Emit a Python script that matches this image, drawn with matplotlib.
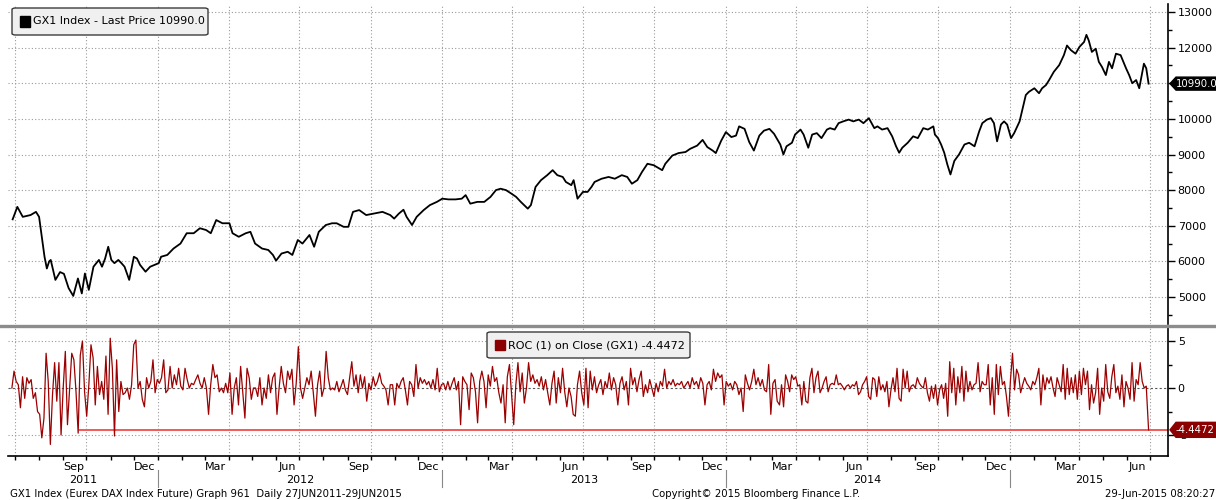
import pandas as pd
import matplotlib
matplotlib.use("Agg")
import matplotlib.pyplot as plt
import matplotlib.dates as mdates
from matplotlib.patches import FancyBboxPatch, Polygon, Rectangle
from matplotlib.lines import Line2D

# ---- data ----
price_dates = [
    "2011-06-28", "2011-07-04", "2011-07-11", "2011-07-21", "2011-07-28", "2011-08-01", "2011-08-08", "2011-08-11",
    "2011-08-14", "2011-08-16", "2011-08-22", "2011-08-28", "2011-09-02", "2011-09-08", "2011-09-14", "2011-09-20",
    "2011-09-25", "2011-09-29", "2011-10-04", "2011-10-10", "2011-10-17", "2011-10-21", "2011-10-25", "2011-10-29",
    "2011-11-02", "2011-11-06", "2011-11-11", "2011-11-15", "2011-11-19", "2011-11-25", "2011-12-01", "2011-12-05",
    "2011-12-09", "2011-12-16", "2011-12-22",
    "2012-01-02", "2012-01-05", "2012-01-13", "2012-01-21", "2012-01-30", "2012-02-07", "2012-02-16", "2012-02-24",
    "2012-03-03", "2012-03-09", "2012-03-16", "2012-03-24", "2012-04-02", "2012-04-06", "2012-04-14", "2012-04-23",
    "2012-04-29", "2012-05-05", "2012-05-14", "2012-05-22", "2012-05-28", "2012-06-01", "2012-06-08", "2012-06-16",
    "2012-06-22", "2012-06-29", "2012-07-05", "2012-07-14", "2012-07-20", "2012-07-26", "2012-08-04", "2012-08-12",
    "2012-08-18", "2012-08-27", "2012-09-02", "2012-09-08", "2012-09-16", "2012-09-25", "2012-10-07", "2012-10-16",
    "2012-10-26", "2012-10-31", "2012-11-06", "2012-11-12", "2012-11-16", "2012-11-23", "2012-11-29", "2012-12-08",
    "2012-12-16", "2012-12-25",
    "2013-01-01", "2013-01-09", "2013-01-18", "2013-01-26", "2013-01-31", "2013-02-06", "2013-02-15", "2013-02-24",
    "2013-03-04", "2013-03-11", "2013-03-17", "2013-03-24", "2013-03-31", "2013-04-06", "2013-04-12", "2013-04-21",
    "2013-04-25", "2013-05-01", "2013-05-08", "2013-05-16", "2013-05-23", "2013-05-29", "2013-06-05", "2013-06-09",
    "2013-06-16", "2013-06-19", "2013-06-24", "2013-07-01", "2013-07-07", "2013-07-12", "2013-07-16", "2013-07-25",
    "2013-08-03", "2013-08-11", "2013-08-20", "2013-08-27", "2013-09-02", "2013-09-09", "2013-09-15", "2013-09-22",
    "2013-09-30", "2013-10-04", "2013-10-11", "2013-10-15", "2013-10-24", "2013-11-01", "2013-11-10", "2013-11-16",
    "2013-11-25", "2013-12-02", "2013-12-08", "2013-12-15", "2013-12-19", "2013-12-26",
    "2014-01-01", "2014-01-08", "2014-01-14", "2014-01-18", "2014-01-25", "2014-01-31", "2014-02-06", "2014-02-13",
    "2014-02-19", "2014-02-26", "2014-03-04", "2014-03-12", "2014-03-16", "2014-03-20", "2014-03-27", "2014-03-31",
    "2014-04-07", "2014-04-11", "2014-04-17", "2014-04-22", "2014-04-28", "2014-05-04", "2014-05-11", "2014-05-15",
    "2014-05-21", "2014-05-26", "2014-06-01", "2014-06-08", "2014-06-14", "2014-06-21", "2014-06-27", "2014-07-04",
    "2014-07-11", "2014-07-15", "2014-07-21", "2014-07-28", "2014-08-03", "2014-08-08", "2014-08-12", "2014-08-16",
    "2014-08-23", "2014-08-30", "2014-09-05", "2014-09-12", "2014-09-18", "2014-09-25", "2014-09-27", "2014-10-01",
    "2014-10-05", "2014-10-09", "2014-10-13", "2014-10-17", "2014-10-22", "2014-10-28", "2014-11-04", "2014-11-10",
    "2014-11-17", "2014-11-23", "2014-11-27", "2014-12-03", "2014-12-08", "2014-12-12", "2014-12-16", "2014-12-21",
    "2014-12-25", "2014-12-29",
    "2015-01-03", "2015-01-07", "2015-01-14", "2015-01-18", "2015-01-22", "2015-01-26", "2015-02-02", "2015-02-08",
    "2015-02-12", "2015-02-17", "2015-02-21", "2015-02-27", "2015-03-06", "2015-03-12", "2015-03-16", "2015-03-21",
    "2015-03-27", "2015-04-01", "2015-04-07", "2015-04-10", "2015-04-13", "2015-04-17", "2015-04-22", "2015-04-26",
    "2015-04-30", "2015-05-05", "2015-05-09", "2015-05-13", "2015-05-18", "2015-05-24", "2015-05-31", "2015-06-04",
    "2015-06-08", "2015-06-13", "2015-06-17", "2015-06-21", "2015-06-23", "2015-06-26", "2015-06-29",
]
price_values = [
    7180, 7530, 7250, 7300, 7390, 7250, 6130, 5800,
    6000, 6040, 5480, 5700, 5650, 5250, 5030, 5520,
    5100, 5660, 5200, 5850, 6040, 5850, 6080, 6410,
    6040, 5950, 6040, 5950, 5850, 5480, 6130, 6080,
    5900, 5710, 5850,
    5950, 6130, 6180, 6360, 6500, 6790, 6790, 6930,
    6880, 6790, 7160, 7070, 7070, 6790, 6690, 6790,
    6830, 6500, 6360, 6320, 6180, 6020, 6220, 6270,
    6180, 6600, 6500, 6740, 6410, 6830, 7020, 7070,
    7070, 6970, 6970, 7390, 7440, 7300, 7350, 7390,
    7300, 7200, 7340, 7450, 7250, 7020, 7250, 7440,
    7580, 7670,
    7760, 7740, 7740, 7760, 7860, 7620, 7670, 7670,
    7810, 8000, 8040, 8000, 7900, 7810, 7670, 7480,
    7580, 8090, 8280, 8420, 8560, 8420, 8370, 8230,
    8140, 8280, 7760, 7950, 7950, 8090, 8230, 8320,
    8370, 8320, 8420, 8370, 8180, 8280, 8510, 8740,
    8700, 8650, 8560, 8740, 8970, 9040, 9070, 9160,
    9250, 9410, 9210, 9110, 9040, 9390,
    9630, 9490, 9530, 9790, 9720, 9350, 9110, 9530,
    9670, 9720, 9580, 9280, 9000, 9230, 9330, 9560,
    9700, 9560, 9190, 9560, 9600, 9460, 9700, 9740,
    9700, 9880, 9930, 9980, 9930, 9980, 9880, 10020,
    9740, 9790, 9700, 9740, 9510, 9230, 9050, 9190,
    9330, 9510, 9460, 9740, 9700, 9790, 9560, 9460,
    9280, 9050, 8720, 8440, 8820, 9000, 9280, 9330,
    9230, 9650, 9880, 9980, 10020, 9880, 9370, 9840,
    9930, 9840,
    9460, 9600, 9930, 10300, 10670, 10760, 10860, 10720,
    10860, 10950, 11090, 11320, 11510, 11790, 12060, 11930,
    11830, 12020, 12160, 12360, 12200, 11880, 11970, 11600,
    11460, 11230, 11600, 11420, 11830, 11790, 11420, 11230,
    11000, 11090, 10860, 11320, 11550, 11420, 10990,
]

# ROC (1) on close, read in three stretches of the chart
roc_span_1 = ("2011-06-27", "2012-10-26")
roc_values_1 = [
    0, 1.8, 0.7, 0.35, -2.1, 1.2, -1.1, 1.1, 0.5, 0.9, -1.1, -0.5, -2.5, -2.8, -5.3, -3.2, 3.7, 0.7, -6.0, -0.7,
    2.7, -1.4, 2.7, -5.0, 0, 3.9, -3.9, 0, 3.7, 3.0, -0.4, -4.8, 3.5, 5.0, -0.4, -3.0, 0.35, 4.6, 3.2, -1.8,
    2.3, -0.7, 0.7, -1.2, 3.4, -2.8, 5.3, 2.1, -5.1, 3.0, -2.5, 0.7, -0.7, -0.5, 0, -1.2, 0.35, 4.6, 5.1, 0,
    0.7, -1.2, -2.0, 1.1, 0, 0.7, 3.0, -0.5, 0.9, 0.5, 1.1, 3.0, -0.5, -0.2, 2.3, 0, 1.4, 0.35, 2.1, 0.2,
    -0.2, 2.1, 0.9, 0, 0.5, 0.35, 0.9, 1.4, 0.5, 0, 1.1, 0, -2.8, 0.35, 2.5, 1.1, 1.4, -0.4, 0, -0.5,
    0.5, -0.5, 1.6, -2.8, 0, 1.1, -1.8, 2.3, -0.4, -3.2, 2.1, 1.1, -1.2, 0, 0, -0.9, 1.1, -1.8, 0, -1.1,
    1.4, -0.5, 1.1, 1.6, -2.8, 0, 2.3, 0.5, -0.5, 1.8, 0.9, 2.0, -1.8, 0.5, 4.4, 0, -1.1, 0, 1.1, 0.35,
    1.8, -0.5, -3.0, 0.35, 1.8, -0.9, 0, 3.9, 1.1, -0.2, 0, -0.2, 0.7, -0.4, 0.2, 0.9, -0.2, -0.7, 1.1, 2.8,
    0.2, 1.4, -0.5, 1.4, 0, 1.2, -1.4, 0.5, -0.2, 1.2, 0.2, 0.7, 1.6, 0.5, 0.2, -0.2, -1.8, 0.35,
]
roc_span_2 = ("2012-10-29", "2014-03-08")
roc_values_2 = [
    0.35, -1.8, 0.5, 0, 0.7, 1.1, -0.2, -1.8, 0.7, 0.35, -0.9, 2.5, 0, 1.1, 0.5, 0.9, 0.35, 0.7, 0, 0.9,
    -0.2, 2.1, -0.4, 0.35, 0.5, -0.2, 0.7, -0.2, 0.5, 1.1, -0.2, 0.7, -3.9, 1.2, 0.7, 0.35, -2.3, 1.6, 1.1, -0.4,
    -3.7, 0.7, 1.8, 0.7, -2.1, 1.4, 0.2, 2.3, 0.7, 1.1, -0.5, -1.6, 0.35, -3.7, 1.2, 2.5, -0.7, -3.9, 0.35, 2.7,
    -0.4, 1.6, -1.6, 0, 2.7, 0.7, 1.4, 0.5, 0.9, 0.2, 1.2, -0.2, 0.9, -0.5, -1.8, 0.5, 1.8, -1.6, 1.1, -0.5,
    2.1, -0.4, -2.0, 0, -0.9, -2.8, -3.0, 0.35, 1.8, -0.5, -1.8, 2.1, -2.1, 1.8, -0.2, 1.2, -0.5, 0.35, 0.9, -0.7,
    0.7, 0, 1.6, -0.2, 1.1, 0.35, -1.8, 0.5, 1.2, -0.2, 0.7, -1.8, 2.1, 0.35, 1.1, -0.4, 0.9, 1.8, -0.9, 0.35,
    -0.5, 0.9, 0, -0.9, 0.5, -0.4, 0.7, 0.2, 2.0, 0, 0.7, 0.35, 0.9, 0.2, 0.5, 0.35, 0.7, 0, 0.35, 0.7,
    0, 1.1, 0.35, 0.7, 0, 1.1, 0.5, -1.8, 0.35, 0.7, -0.2, 2.0, 0.7, 1.6, 1.1, 1.4, -1.8, 0.7, 0.2, 0.5,
    -0.2, 0.7, 0.35, -0.7, 0, -2.5, 1.4, 0.5, -0.2, 0.7, 2.0, 0.35, 1.1, 0.2, 0.9, -0.2, -0.4, 2.5, -2.8, 0.5,
    0.9, -1.4,
]
roc_span_3 = ("2014-03-11", "2015-06-26")
roc_values_3 = [
    -1.8, 0.35, -2.0, 1.4, 0.7, -0.4, 1.4, 0.9, 1.2, 0.2, 0.35, -1.8, 0.7, -1.4, -1.6, 1.1, 2.1, -0.5, 1.1, 1.8,
    -0.5, 0, 0.7, 1.2, -0.4, 0.35, 0.5, 0.35, 1.4, 0.35, 0.5, 0.2, -0.2, 0.2, 0.35, 0, 0.35, 0.2, 0.7, -0.7,
    -0.4, 0.35, 0.7, 1.2, -0.9, -1.2, 1.1, 0.9, -0.9, 1.2, -0.2, 0.35, -0.4, 0.7, -2.0, -0.2, 1.1, -0.4, 2.1, -1.1,
    -1.4, 2.0, 0, 1.8, -0.4, 0.2, 0.35, 0, 1.1, 0.5, 0.2, 0, 1.1, -0.5, -1.4, 0.2, -1.1, 0.35, -1.8, -0.2,
    0.35, -1.1, 0.5, -3.0, 2.8, -0.5, 2.1, -1.8, 1.2, -0.5, 2.3, -1.4, 1.8, -0.4, 0.7, -0.2, 0.35, 0.5, 2.7, -0.4,
    0.7, 0.35, 0.35, 2.5, -1.8, 1.1, -2.8, 2.5, -0.7, 2.3, 0.35, 0.7, -0.9, -3.0, 0.9, 3.7, -0.2, 2.0, 1.4, -0.5,
    0.35, 1.1, 0.5, 0.2, -0.2, 0.7, 0.35, 1.1, 2.1, -1.8, 1.4, -0.2, 1.1, 0.5, 1.2, 0, -0.9, 1.1, 0.35, -0.4,
    2.5, -1.2, 2.1, -0.7, 1.1, -0.5, 1.4, -1.2, 1.8, -0.7, 2.1, 0.35, 1.8, -2.3, 0.35, -1.6, -0.5, 2.1, -2.8, 0,
    -1.4, 2.5, -0.4, -1.1, 1.2, 2.5, -0.5, 0.2, -1.2, 1.4, -2.0, 0.7, 0, -1.2, 2.7, -1.4, 0.9, 0.35, 2.7, 0.7,
    0, 0.2,
]
roc_last_date = "2015-06-29"
roc_last = -4.4472
roc_line_start = "2011-09-22"   # where the last-value line begins

last_price = 10990.0
price_ticks = [5000, 6000, 7000, 8000, 9000, 10000, 11000, 12000, 13000]
price_tick_labels = ["5000", "6000", "7000", "8000", "9000", "10000", "", "12000", "13000"]
roc_ticks = [-5, 0, 5]
years = [2011, 2012, 2013, 2014, 2015]

x_start = pd.Timestamp("2011-06-22")
x_end = pd.Timestamp("2015-07-24")

# ---- build series ----
price = pd.Series(price_values, index=pd.to_datetime(price_dates))
roc_parts = []
for span, vals in [(roc_span_1, roc_values_1), (roc_span_2, roc_values_2), (roc_span_3, roc_values_3)]:
    idx = pd.date_range(span[0], span[1], periods=len(vals))
    roc_parts.append(pd.Series(vals, index=idx))
roc_parts.append(pd.Series([roc_last], index=pd.to_datetime([roc_last_date])))
roc = pd.concat(roc_parts)

# ---- figure layout (pixel based) ----
W, H = 1216, 500
fig = plt.figure(figsize=(W / 100, H / 100), dpi=100)
plt.rcParams['font.family'] = 'DejaVu Sans'


def rect(x0, y0, x1, y1):
    return [x0 / W, 1 - y1 / H, (x1 - x0) / W, (y1 - y0) / H]


ax1 = fig.add_axes(rect(8, 4, 1168, 324))
ax2 = fig.add_axes(rect(8, 327, 1168, 456))

grid_kw = dict(color='#9a9a9a', lw=0.8, ls=(0, (1, 2)), zorder=0)
quarters = pd.date_range("2011-07-01", "2015-07-01", freq="QS")

# top panel: price
ax1.plot(price.index, price.values, color='black', lw=1.3, zorder=3)
ax1.set_xlim(x_start, x_end)
ax1.set_ylim(4242, 13225)
for q in quarters:
    ax1.axvline(q, **grid_kw)
for t in price_ticks:
    ax1.axhline(t, **grid_kw)
ax1.yaxis.tick_right()
ax1.set_yticks(price_ticks)
ax1.set_yticklabels(price_tick_labels)
ax1.set_yticks(range(4500, 13001, 1000), minor=True)
ax1.tick_params(axis='y', which='major', direction='out', length=5, width=1, labelsize=8, pad=2)
ax1.tick_params(axis='y', which='minor', direction='out', length=3, width=1)
ax1.tick_params(axis='x', which='both', bottom=False, labelbottom=False)
for s in ['top', 'left', 'bottom']:
    ax1.spines[s].set_visible(False)
ax1.spines['right'].set_linewidth(1.2)

# bottom panel: ROC
ax2.plot(roc.index, roc.values, color='#9c0000', lw=0.9, zorder=3)
ax2.hlines(roc_last, pd.Timestamp(roc_line_start), x_end, color='#f05a5a', lw=1.4, zorder=2)
ax2.set_xlim(x_start, x_end)
ax2.set_ylim(-7.23, 6.49)
for q in quarters:
    ax2.axvline(q, **grid_kw)
ax2.axhline(5, **grid_kw)
ax2.axhline(-5, **grid_kw)
ax2.axhline(0, color='#555555', lw=0.8, ls=(0, (2, 2)), zorder=1)
ax2.yaxis.tick_right()
ax2.set_yticks(roc_ticks)
ax2.set_yticklabels([str(t) for t in roc_ticks])
ax2.set_yticks([-2.5, 2.5], minor=True)
ax2.tick_params(axis='y', which='major', direction='out', length=5, width=1, labelsize=8, pad=2)
ax2.tick_params(axis='y', which='minor', direction='out', length=3, width=1)
ax2.xaxis.set_minor_locator(mdates.MonthLocator())
ax2.xaxis.set_major_locator(mdates.MonthLocator(bymonth=(3, 6, 9, 12), bymonthday=15))
ax2.xaxis.set_major_formatter(mdates.DateFormatter('%b'))
ax2.tick_params(axis='x', which='minor', direction='out', length=3, width=1)
ax2.tick_params(axis='x', which='major', length=0, labelsize=8, pad=4)
for s in ['top', 'left']:
    ax2.spines[s].set_visible(False)
ax2.spines['right'].set_linewidth(1.2)
ax2.spines['bottom'].set_linewidth(1.2)

# year labels and separators
for yr in years:
    lo = max(pd.Timestamp(f"{yr}-01-01"), x_start)
    hi = min(pd.Timestamp(f"{yr + 1}-01-01"), x_end)
    mid = lo + (hi - lo) / 2
    ax2.annotate(str(yr), xy=(mid, 0), xycoords=('data', 'axes fraction'),
                 xytext=(0, -24), textcoords='offset pixels', ha='center', va='center', fontsize=8)
    if yr > 2011:
        ax2.plot([pd.Timestamp(f"{yr}-01-01")] * 2, [-0.11, -0.24], color='#888888', lw=0.8,
                 transform=ax2.get_xaxis_transform(), clip_on=False)

# separator between the panels
fig.add_artist(Line2D([0, 1], [1 - 325.5 / H] * 2, color='#8c8c8c', lw=2.4, transform=fig.transFigure))


# legends
def legend_box(x0, y0, x1, y1, color, text):
    fig.add_artist(FancyBboxPatch((x0 / W, 1 - y1 / H), (x1 - x0) / W, (y1 - y0) / H,
                                  boxstyle='round,pad=0,rounding_size=0.003', fc='#f0f0f0', ec='#3c3c3c',
                                  lw=1, transform=fig.transFigure, zorder=5))
    cy = (y0 + y1) / 2
    fig.add_artist(Rectangle(((x0 + 8) / W, 1 - (cy + 5) / H), 10 / W, 10 / H, fc=color, ec=color,
                             transform=fig.transFigure, zorder=6))
    fig.text((x0 + 21) / W, 1 - cy / H, text, fontsize=8, va='center', ha='left', zorder=6)


legend_box(12, 8, 208, 35, 'black', f"GX1 Index - Last Price {last_price:.1f}")
legend_box(487, 332, 690, 358, '#8b0000', f"ROC (1) on Close (GX1) {roc_last:.4f}")


# last-value tags on the right axis
def value_tag(ax, val, color, text, half):
    _, yd = ax.transData.transform((0, val))
    xa = ax.transAxes.transform((1, 0))[0]
    pts = [(xa + 2, yd), (xa + 8, yd + half), (xa + 80, yd + half), (xa + 80, yd - half), (xa + 8, yd - half)]
    pts = [(px / W, py / H) for px, py in pts]
    fig.add_artist(Polygon(pts, closed=True, fc=color, ec=color, transform=fig.transFigure, zorder=7))
    fig.text((xa + 8) / W, yd / H, text, color='white', fontsize=7.3, va='center', ha='left', zorder=8)


value_tag(ax1, last_price, 'black', f"{last_price:.1f}", 6.5)
value_tag(ax2, roc_last, '#8b0000', f"{roc_last:.4f}", 7.5)

# footer
foot_kw = dict(fontsize=7.3, va='center')
fig.text(10 / W, 1 - 494 / H, "GX1 Index (Eurex DAX Index Future) Graph 961  Daily 27JUN2011-29JUN2015",
         ha='left', **foot_kw)
fig.text(652 / W, 1 - 494 / H, "Copyright\u00a9 2015 Bloomberg Finance L.P.", ha='left', **foot_kw)
fig.text(1215 / W, 1 - 494 / H, "29-Jun-2015 08:20:27", ha='right', **foot_kw)

fig.savefig("out.png", dpi=100, facecolor='white')
